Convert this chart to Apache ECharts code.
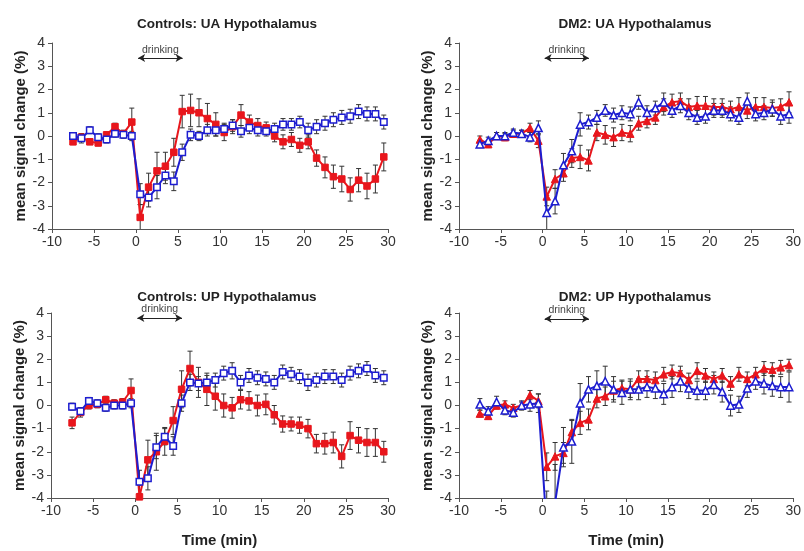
<!DOCTYPE html>
<html>
<head>
<meta charset="utf-8">
<script src="https://cdn.jsdelivr.net/npm/echarts@6/dist/echarts.min.js"></script>
<style>html,body{margin:0;padding:0;background:#fff;}#c{width:804px;height:551px;}</style>
</head>
<body>
<div id="c"></div>
<script>
// ---- data ----
var times = [-7.5,-6.5,-5.5,-4.5,-3.5,-2.5,-1.5,-0.5,0.5,1.5,2.5,3.5,4.5,5.5,6.5,7.5,8.5,9.5,10.5,11.5,12.5,13.5,14.5,15.5,16.5,17.5,18.5,19.5,20.5,21.5,22.5,23.5,24.5,25.5,26.5,27.5,28.5,29.5];
var xTicks = [-10,-5,0,5,10,15,20,25,30];
var yTicks = [-4,-3,-2,-1,0,1,2,3,4];
var panelTitles = ['Controls: UA Hypothalamus','DM2: UA Hypothalamus','Controls: UP Hypothalamus','DM2: UP Hypothalamus'];
var drinkingLabel = 'drinking';
var drinkingStart = 0.25;
var drinkingEnd = 5.55;
var drinkingLevel = [3.35, 3.35, 3.78, 3.75];

// Controls UA
var ctrlUA_red = [-0.25,-0.05,-0.25,-0.3,0.05,0.4,0.1,0.6,-3.5,-2.2,-1.5,-1.3,-0.7,1.05,1.1,1.0,0.75,0.5,0.15,0.4,0.9,0.6,0.45,0.35,0.0,-0.25,-0.15,-0.4,-0.25,-0.95,-1.35,-1.75,-1.85,-2.3,-1.9,-2.15,-1.85,-0.9];
var ctrlUA_redErr = [0.12,0.15,0.12,0.12,0.12,0.15,0.15,0.6,0.55,0.6,0.8,0.6,0.6,0.7,0.7,0.6,0.65,0.5,0.35,0.3,0.45,0.3,0.3,0.25,0.25,0.3,0.3,0.3,0.3,0.35,0.45,0.5,0.55,0.5,0.5,0.55,0.6,0.6];
var ctrlUA_blue = [0.0,-0.1,0.25,-0.05,-0.15,0.1,0.05,0.0,-2.5,-2.65,-2.2,-1.7,-1.95,-0.7,0.05,0.0,0.25,0.25,0.3,0.45,0.2,0.35,0.25,0.2,0.3,0.5,0.5,0.6,0.25,0.4,0.55,0.7,0.8,0.85,1.05,0.95,0.95,0.6];
var ctrlUA_blueErr = [0.15,0.2,0.15,0.15,0.15,0.15,0.15,0.2,0.45,0.4,0.5,0.35,0.4,0.35,0.25,0.2,0.25,0.25,0.25,0.25,0.25,0.25,0.25,0.2,0.25,0.25,0.25,0.25,0.3,0.3,0.3,0.3,0.3,0.3,0.3,0.3,0.3,0.3];

// DM2 UA
var dm2UA_red = [-0.15,-0.35,0.0,-0.05,0.1,0.1,0.35,-0.2,-2.6,-1.85,-1.6,-0.95,-0.9,-1.05,0.15,0.05,-0.05,0.15,0.1,0.55,0.65,0.8,1.25,1.45,1.5,1.25,1.3,1.3,1.25,1.25,1.15,1.25,1.1,1.25,1.25,1.2,1.25,1.45];
var dm2UA_redErr = [0.15,0.15,0.15,0.15,0.15,0.15,0.2,0.3,0.4,0.4,0.35,0.4,0.5,0.45,0.35,0.4,0.4,0.35,0.35,0.3,0.3,0.3,0.35,0.35,0.35,0.35,0.4,0.4,0.35,0.35,0.35,0.4,0.35,0.4,0.4,0.35,0.35,0.45];
var dm2UA_blue = [-0.35,-0.2,0.0,0.0,0.15,0.1,-0.05,0.35,-3.3,-2.8,-1.25,-0.65,0.5,0.6,0.8,1.1,0.9,1.0,0.95,1.45,1.0,1.2,1.45,1.1,1.3,1.0,0.8,0.85,1.1,1.1,0.95,0.8,1.5,0.95,1.0,1.15,0.85,0.95];
var dm2UA_blueErr = [0.15,0.15,0.15,0.15,0.15,0.15,0.2,0.3,0.75,0.55,0.5,0.5,0.5,0.3,0.3,0.25,0.3,0.3,0.3,0.3,0.3,0.3,0.4,0.3,0.3,0.3,0.3,0.3,0.3,0.3,0.3,0.3,0.35,0.3,0.3,0.3,0.35,0.4];

// Controls UP
var ctrlUP_red = [-0.75,-0.3,0.0,0.05,0.25,0.1,0.15,0.65,-3.95,-2.35,-2.0,-1.55,-0.65,0.7,1.6,1.0,0.7,0.4,0.0,-0.1,0.25,0.2,0.0,0.05,-0.4,-0.8,-0.8,-0.85,-1.0,-1.65,-1.65,-1.6,-2.2,-1.3,-1.5,-1.6,-1.6,-2.0];
var ctrlUP_redErr = [0.25,0.2,0.15,0.15,0.15,0.15,0.15,0.5,0.5,0.85,0.8,0.6,0.6,0.8,0.75,0.65,0.7,0.6,0.5,0.45,0.4,0.4,0.45,0.45,0.4,0.35,0.3,0.35,0.4,0.4,0.45,0.45,0.5,0.6,0.55,0.6,0.6,0.45];
var ctrlUP_blue = [-0.05,-0.25,0.2,0.1,-0.1,0.0,0.0,0.1,-3.3,-3.15,-1.8,-1.35,-1.75,0.1,1.0,0.95,1.0,1.1,1.4,1.5,1.0,1.3,1.2,1.15,1.0,1.45,1.35,1.25,1.0,1.1,1.25,1.25,1.1,1.4,1.5,1.6,1.3,1.2];
var ctrlUP_blueErr = [0.15,0.15,0.15,0.15,0.15,0.15,0.15,0.2,0.5,0.5,0.5,0.35,0.4,0.35,0.35,0.3,0.3,0.3,0.3,0.35,0.3,0.3,0.3,0.3,0.3,0.3,0.3,0.3,0.35,0.3,0.3,0.3,0.3,0.3,0.3,0.3,0.3,0.3];

// DM2 UP
var dm2UP_red = [-0.35,-0.45,0.0,0.05,-0.1,0.0,0.45,0.2,-2.65,-2.2,-2.05,-1.15,-0.75,-0.6,0.3,0.4,0.65,0.75,0.7,1.15,1.15,1.1,1.35,1.45,1.4,1.1,1.5,1.3,1.15,1.3,0.95,1.35,1.15,1.35,1.6,1.55,1.65,1.75];
var dm2UP_redErr = [0.15,0.15,0.15,0.15,0.15,0.15,0.2,0.3,0.6,0.6,0.45,0.5,0.5,0.45,0.4,0.4,0.4,0.35,0.35,0.35,0.35,0.35,0.3,0.3,0.3,0.3,0.35,0.3,0.3,0.3,0.3,0.3,0.3,0.3,0.3,0.3,0.3,0.25];
var dm2UP_blue = [0.05,-0.25,0.15,-0.2,-0.3,0.0,0.05,0.1,-5.3,-4.2,-1.8,-1.55,0.1,0.7,0.85,1.05,0.7,0.55,0.7,0.7,0.8,0.75,0.5,0.8,1.05,0.75,0.65,0.65,0.9,0.6,0.0,0.05,0.75,1.05,0.95,0.85,0.8,0.8];
var dm2UP_blueErr = [0.25,0.2,0.25,0.2,0.2,0.2,0.3,0.4,1.6,1.65,0.85,0.95,0.85,0.55,0.65,0.65,0.55,0.5,0.45,0.45,0.45,0.45,0.45,0.45,0.45,0.45,0.4,0.4,0.4,0.45,0.45,0.35,0.4,0.35,0.45,0.45,0.45,0.65];

// ---- chart ----
var RED = '#e8161c', BLUE = '#1d1dd0';
var FONT = "'Liberation Sans', Arial, sans-serif";
var grids = [
  {left: 52, top: 43, width: 336, height: 186},
  {left: 459, top: 43, width: 337, height: 186},
  {left: 51, top: 313, width: 337, height: 185},
  {left: 459, top: 313, width: 337, height: 185}
];
var titleCenters = [[222, 12], [630, 12], [222, 285], [630, 285]];
var panels = [
  {red: ctrlUA_red, redErr: ctrlUA_redErr, blue: ctrlUA_blue, blueErr: ctrlUA_blueErr, sym: 'rect'},
  {red: dm2UA_red, redErr: dm2UA_redErr, blue: dm2UA_blue, blueErr: dm2UA_blueErr, sym: 'triangle'},
  {red: ctrlUP_red, redErr: ctrlUP_redErr, blue: ctrlUP_blue, blueErr: ctrlUP_blueErr, sym: 'rect'},
  {red: dm2UP_red, redErr: dm2UP_redErr, blue: dm2UP_blue, blueErr: dm2UP_blueErr, sym: 'triangle'}
];

function pairs(vals) { return times.map(function (t, i) { return [t, vals[i]]; }); }
function triples(vals, errs) { return times.map(function (t, i) { return [t, vals[i], errs[i]]; }); }

function errRender(params, api) {
  var x = api.value(0), y = api.value(1), e = api.value(2);
  var top = api.coord([x, y + e]), bot = api.coord([x, y - e]);
  var c = 2.5;
  var st = {stroke: '#333', lineWidth: 1};
  return {type: 'group', children: [
    {type: 'line', shape: {x1: top[0], y1: top[1], x2: bot[0], y2: bot[1]}, style: st},
    {type: 'line', shape: {x1: top[0] - c, y1: top[1], x2: top[0] + c, y2: top[1]}, style: st},
    {type: 'line', shape: {x1: bot[0] - c, y1: bot[1], x2: bot[0] + c, y2: bot[1]}, style: st}
  ]};
}

var xAxes = [], yAxes = [], series = [], titles = [];
grids.forEach(function (g, i) {
  var bottomRow = i >= 2;
  xAxes.push({
    type: 'value', gridIndex: i, min: xTicks[0], max: xTicks[xTicks.length - 1], interval: 5,
    splitLine: {show: false},
    axisLine: {onZero: false, lineStyle: {color: '#555', width: 1}},
    axisTick: {show: true, length: 4, lineStyle: {color: '#555'}},
    axisLabel: {color: '#333', fontSize: 14, fontFamily: FONT, margin: 6},
    name: bottomRow ? 'Time (min)' : '', nameLocation: 'middle', nameGap: 35,
    nameTextStyle: {fontWeight: 'bold', fontSize: 15, color: '#222', fontFamily: FONT}
  });
  yAxes.push({
    type: 'value', gridIndex: i, min: yTicks[0], max: yTicks[yTicks.length - 1], interval: 1,
    splitLine: {show: false},
    axisLine: {show: true, onZero: false, lineStyle: {color: '#555', width: 1}},
    axisTick: {show: true, length: 4, lineStyle: {color: '#555'}},
    axisLabel: {color: '#333', fontSize: 14, fontFamily: FONT, margin: 7},
    name: 'mean signal change (%)', nameLocation: 'middle', nameGap: 22,
    nameTextStyle: {fontWeight: 'bold', fontSize: 15, color: '#222', fontFamily: FONT}
  });
  titles.push({
    text: panelTitles[i], left: titleCenters[i][0], top: titleCenters[i][1], textAlign: 'center',
    textStyle: {fontWeight: 'bold', fontSize: 13.5, color: '#222', fontFamily: FONT}
  });
  var p = panels[i];
  series.push({
    type: 'custom', xAxisIndex: i, yAxisIndex: i, renderItem: errRender, clip: true, z: 1,
    encode: {x: 0, y: 1}, data: triples(p.red, p.redErr), silent: true
  });
  series.push({
    type: 'custom', xAxisIndex: i, yAxisIndex: i, renderItem: errRender, clip: true, z: 1,
    encode: {x: 0, y: 1}, data: triples(p.blue, p.blueErr), silent: true
  });
  series.push({
    type: 'line', xAxisIndex: i, yAxisIndex: i, data: pairs(p.red), clip: true, z: 3,
    symbol: p.sym, symbolSize: p.sym === 'rect' ? 6.5 : 7.5, showAllSymbol: true,
    lineStyle: {color: RED, width: 2}, itemStyle: {color: RED, borderColor: RED, borderWidth: 1},
    animation: false,
    markLine: {
      silent: true, symbol: ['arrow', 'arrow'], symbolSize: [6, 7], animation: false,
      lineStyle: {color: '#222', width: 1, type: 'solid'},
      label: {show: true, position: 'insideMiddleTop', formatter: drinkingLabel, color: '#444', fontSize: 10.5, fontFamily: FONT, distance: 3},
      data: [[{coord: [drinkingStart, drinkingLevel[i]]}, {coord: [drinkingEnd, drinkingLevel[i]]}]]
    }
  });
  series.push({
    type: 'line', xAxisIndex: i, yAxisIndex: i, data: pairs(p.blue), clip: true, z: 4,
    symbol: p.sym, symbolSize: p.sym === 'rect' ? 6.5 : 7.5, showAllSymbol: true,
    lineStyle: {color: BLUE, width: 2}, itemStyle: {color: '#fff', borderColor: BLUE, borderWidth: 1.5},
    animation: false
  });
});

var chart = echarts.init(document.getElementById('c'), null, {renderer: 'canvas'});
chart.setOption({
  backgroundColor: '#fff',
  animation: false,
  title: titles,
  grid: grids,
  xAxis: xAxes,
  yAxis: yAxes,
  series: series
});
</script>
</body>
</html>
